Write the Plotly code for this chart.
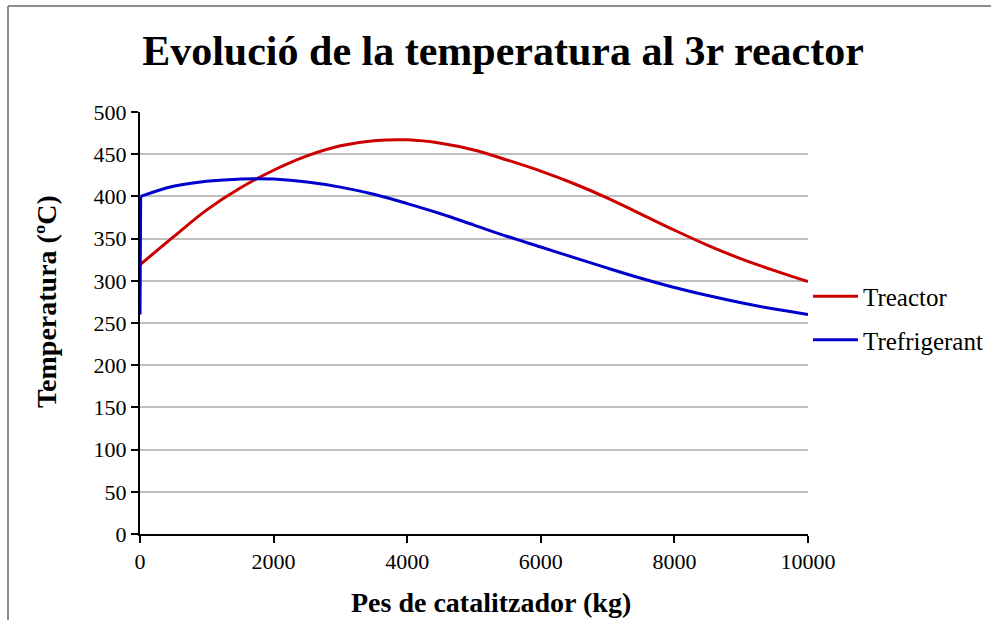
import plotly.graph_objects as go

# Catalyst mass along the 3rd reactor (kg)
pes_reactor = [0, 500, 1000, 1500, 2000, 2500, 3000, 3500, 4000, 4500, 5000,
               5500, 6000, 6500, 7000, 7500, 8000, 8500, 9000, 9500, 10000]
# Reactor temperature (ºC)
t_reactor = [319, 352, 384, 410, 431, 448, 460, 466, 467, 463, 455,
             443, 430, 415, 398, 379, 360, 342, 326, 312, 299]

pes_refrig = [0, 10, 500, 1000, 1500, 1750, 2000, 2500, 3000, 3500, 4000, 4500,
              5000, 5500, 6000, 6500, 7000, 7500, 8000, 8500, 9000, 9500, 10000]
# Coolant temperature (ºC)
t_refrig = [260, 400, 412, 418, 420.5, 421, 420.5, 417, 411, 402.5, 391.5, 379.5,
            366, 352.5, 340, 327.5, 315, 303, 292, 282.5, 274, 266.5, 260]

x_ticks = [0, 2000, 4000, 6000, 8000, 10000]

FONT = "Liberation Serif, Times New Roman, serif"
RED = "#CC0000"
BLUE = "#0000CC"

fig = go.Figure()
fig.add_trace(go.Scatter(x=pes_reactor, y=t_reactor, mode="lines", name="Treactor",
                         legendgroup="a", line=dict(color=RED, width=3, shape="spline", smoothing=1)))
# coolant: initial inlet jump drawn straight, the rest smoothed
fig.add_trace(go.Scatter(x=pes_refrig[:2], y=t_refrig[:2], mode="lines", name="Trefrigerant",
                         legendgroup="b", showlegend=False, line=dict(color=BLUE, width=3)))
fig.add_trace(go.Scatter(x=pes_refrig[1:], y=t_refrig[1:], mode="lines", name="Trefrigerant",
                         legendgroup="b", line=dict(color=BLUE, width=3, shape="spline", smoothing=1)))

fig.update_layout(
    width=991, height=620,
    margin=dict(l=140, r=183, t=112, b=86, autoexpand=False),
    paper_bgcolor="white", plot_bgcolor="white",
    font=dict(family=FONT, size=22, color="black"),
    title=dict(text="<b>Evolució de la temperatura al 3r reactor</b>",
               x=503 / 991, xref="container", xanchor="center",
               y=1 - 50 / 620, yref="container", yanchor="middle",
               font=dict(family=FONT, size=42, color="black")),
    showlegend=True,
    legend=dict(x=1.0, xanchor="left", y=(534 - 318) / 422, yanchor="middle",
                font=dict(family=FONT, size=25), tracegroupgap=8, itemwidth=45,
                bgcolor="rgba(0,0,0,0)"),
    xaxis=dict(range=[0, 10000], tickvals=x_ticks, ticktext=[str(v) for v in x_ticks],
               showgrid=False, zeroline=False, showline=True, linecolor="black",
               linewidth=2, ticks="outside", ticklen=7, tickwidth=2, tickcolor="black",
               tickfont=dict(family=FONT, size=22)),
    yaxis=dict(range=[0, 500], dtick=50, showgrid=True, gridcolor="#BFBFBF", gridwidth=2,
               zeroline=False, showline=True, linecolor="black", linewidth=2,
               ticks="outside", ticklen=7, tickwidth=2, tickcolor="black",
               tickfont=dict(family=FONT, size=22)),
    annotations=[
        dict(text="<b>Pes de catalitzador (kg)</b>", xref="paper", yref="paper",
             x=(491 - 140) / 668, y=-(602 - 534) / 422, xanchor="center", yanchor="middle",
             showarrow=False, font=dict(family=FONT, size=28)),
        dict(text="<b>Temperatura (ºC)</b>", xref="paper", yref="paper",
             x=-(140 - 46) / 668, y=(534 - 302) / 422, xanchor="center", yanchor="middle",
             textangle=-90, showarrow=False, font=dict(family=FONT, size=28)),
    ],
    shapes=[
        # chart frame (left and top edges)
        dict(type="line", xref="paper", yref="paper",
             x0=(8 - 140) / 668, x1=(8 - 140) / 668, y0=(534 - 6) / 422, y1=(534 - 640) / 422,
             line=dict(color="#8C8C8C", width=2)),
        dict(type="line", xref="paper", yref="paper",
             x0=(8 - 140) / 668, x1=(1000 - 140) / 668, y0=(534 - 6) / 422, y1=(534 - 6) / 422,
             line=dict(color="#8C8C8C", width=2)),
    ],
)

fig.write_html("out.html")
